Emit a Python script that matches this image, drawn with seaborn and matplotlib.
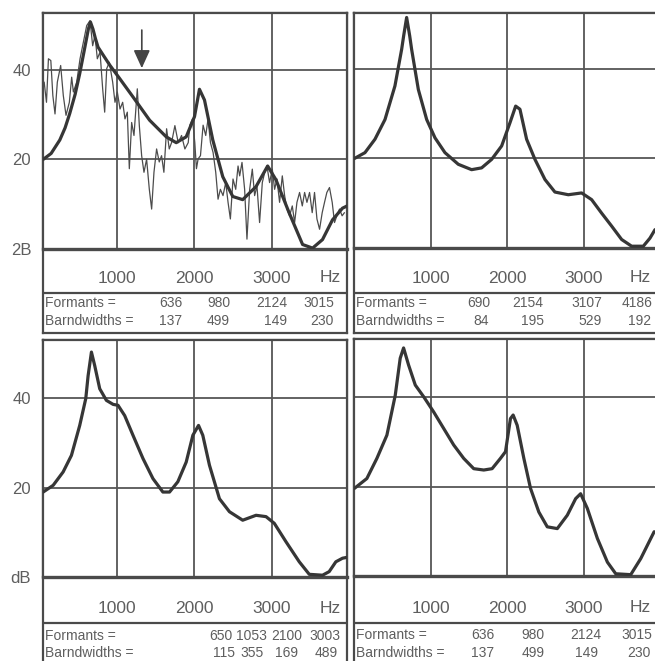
import matplotlib
matplotlib.use("Agg")
import matplotlib.pyplot as plt
import seaborn as sns
import pandas as pd

# ---------------- data ----------------
freq_ticks = [1000, 2000, 3000]
freq_tick_labels = ["1000", "2000", "3000"]
db_ticks = [0, 20, 40]
db_labels_top = ["2B", "20", "40"]
db_labels_bottom = ["dB", "20", "40"]
panel_orders = ["14", "10", "12", "14"]

# top-left: LPC envelope (order 14) + FFT spectrum
tl_freq = [50, 150, 262, 330, 390, 460, 519, 580, 630, 657, 690, 720, 755, 830, 906,
           1034, 1206, 1421, 1635, 1764, 1893, 2000, 2064, 2129, 2236, 2365, 2494,
           2622, 2794, 2944, 3052, 3223, 3395, 3524, 3652, 3781, 3910, 3970]
tl_db = [20.0, 21.3, 24.3, 27.0, 30.2, 34.5, 39.1, 44.5, 49.0, 50.6, 49.0, 47.0, 45.0, 43.0, 41.0,
         38.0, 33.9, 28.7, 25.0, 23.7, 25.0, 29.5, 35.6, 33.2, 24.3, 16.1, 11.7,
         11.0, 13.9, 18.5, 15.4, 8.0, 1.0, 0.2, 2.1, 6.5, 9.1, 9.6]

fft_freq = [30, 60, 90, 115, 146, 172, 200, 230, 273, 307, 342, 385, 415, 437, 480, 523,
            566, 609, 652, 686, 716, 746, 781, 815, 841, 867, 901, 944, 974, 1004, 1039,
            1073, 1103, 1133, 1159, 1189, 1219, 1262, 1288, 1318, 1348, 1382, 1417, 1447,
            1477, 1511, 1545, 1575, 1605, 1640, 1674, 1704, 1747, 1790, 1833, 1876, 1919,
            1940, 1974, 2004, 2025, 2047, 2077, 2111, 2145, 2175, 2206, 2240, 2274, 2304,
            2334, 2368, 2403, 2433, 2463, 2497, 2532, 2562, 2583, 2613, 2647, 2677, 2712,
            2746, 2776, 2806, 2840, 2875, 2905, 2935, 2969, 3004, 3034, 3064, 3098, 3133,
            3163, 3193, 3227, 3262, 3292, 3322, 3356, 3391, 3421, 3451, 3485, 3519, 3549,
            3580, 3614, 3648, 3678, 3708, 3742, 3777, 3807, 3837, 3871, 3905, 3935]
fft_db = [35.0, 37.2, 32.7, 42.4, 42.0, 34.2, 30.1, 37.2, 40.9, 34.2, 29.8, 32.7, 38.3, 35.0, 37.2, 42.4,
          46.1, 49.8, 50.9, 45.3, 47.6, 42.4, 43.9, 35.7, 30.5, 40.2, 41.6, 37.2, 32.7, 35.0, 31.2,
          32.7, 29.0, 30.5, 17.9, 28.2, 25.3, 35.7, 27.5, 20.8, 17.1, 20.0, 13.3, 8.9,
          17.1, 22.3, 19.4, 20.8, 17.1, 26.8, 22.3, 23.7, 27.5, 23.7, 25.3, 22.3, 23.7,
          27.6, 29.0, 23.7, 17.9, 20.1, 20.8, 27.6, 25.3, 29.0, 23.7, 21.5, 17.1, 11.1,
          13.3, 11.9, 14.8, 10.4, 6.7, 15.6, 13.3, 18.5, 16.3, 19.3, 13.3, 2.2, 13.3,
          17.8, 11.9, 14.1, 5.9, 14.8, 17.0, 18.5, 14.8, 17.8, 13.3, 15.6, 10.4, 16.3,
          11.9, 8.9, 7.4, 9.6, 5.9, 10.4, 12.6, 9.6, 12.6, 10.4, 12.6, 8.1, 12.6,
          6.7, 4.4, 8.1, 10.4, 12.6, 13.7, 10.4, 5.9, 7.4, 8.9, 7.4, 8.1]

# top-right: order 10
tr_freq = [0, 137, 268, 399, 529, 617, 643, 682, 722, 747, 835, 944, 1053, 1183, 1357, 1531,
           1662, 1793, 1924, 2033, 2107, 2163, 2250, 2359, 2490, 2620, 2795, 2969, 3100,
           3230, 3361, 3492, 3623, 3775, 3862, 3928]
tr_db = [20.0, 21.3, 24.3, 28.7, 36.2, 44.4, 47.4, 51.5, 47.4, 44.4, 35.4, 28.7, 24.6, 21.3, 18.7, 17.5,
         17.9, 19.8, 22.8, 28.0, 31.7, 31.0, 24.3, 19.8, 15.3, 12.5, 11.9, 12.3, 10.8,
         7.8, 4.9, 1.9, 0.4, 0.4, 2.2, 4.1]

# bottom-left: order 12
bl_freq = [47, 176, 305, 412, 519, 597, 627, 670, 712, 777, 863, 950, 1013, 1099, 1206, 1335,
           1464, 1592, 1678, 1785, 1893, 1979, 2052, 2107, 2193, 2322, 2451, 2622, 2794,
           2923, 3030, 3180, 3352, 3481, 3652, 3738, 3824, 3910, 3970]
bl_db = [19.0, 20.5, 23.5, 27.2, 33.9, 39.9, 45.0, 50.3, 47.3, 42.1, 39.5, 38.6, 38.4, 36.1, 31.7, 26.5,
         22.0, 19.0, 19.0, 21.3, 25.7, 31.7, 33.9, 31.7, 25.0, 17.5, 14.6, 12.7, 13.8,
         13.5, 12.0, 7.9, 3.4, 0.6, 0.4, 1.2, 3.4, 4.2, 4.4]

# bottom-right: order 14
br_freq = [0, 162, 293, 424, 533, 598, 642, 707, 795, 904, 1035, 1166, 1297, 1428, 1559, 1690,
           1799, 1908, 1974, 2039, 2074, 2127, 2214, 2301, 2410, 2520, 2651, 2782, 2891, 2956,
           3044, 3175, 3306, 3415, 3611, 3742, 3873, 3917]
br_db = [19.6, 21.8, 26.3, 31.5, 40.4, 48.7, 51.0, 47.2, 42.7, 40.1, 36.7, 33.0, 29.3, 26.3, 24.0, 23.7,
         24.0, 26.3, 27.8, 35.2, 36.0, 33.7, 26.3, 19.6, 14.3, 11.0, 10.6, 13.6, 17.3, 18.4,
         15.1, 8.4, 3.1, 0.5, 0.3, 3.9, 8.4, 9.9]

tl_formants = [636, 980, 2124, 3015]
tl_bandwidths = [137, 499, 149, 230]
tr_formants = [690, 2154, 3107, 4186]
tr_bandwidths = [84, 195, 529, 192]
bl_formants = [650, 1053, 2100, 3003]
bl_bandwidths = [115, 355, 169, 489]
br_formants = [636, 980, 2124, 3015]
br_bandwidths = [137, 499, 149, 230]

arrow_freq = 1320

# ---------------- style ----------------
sns.set_theme(style="white")
plt.rcParams['font.family'] = ['Liberation Sans', 'DejaVu Sans']

W, H = 655, 661
fig = plt.figure(figsize=(W / 100, H / 100), dpi=100)
fig.patch.set_facecolor("white")

CURVE = "#363636"
GRID = "#565656"
FRAME = "#4a4a4a"
TEXT = "#5e5e5e"
TFS = 10


def rect(x0, y0, x1, y1):
    return [x0 / W, 1 - y1 / H, (x1 - x0) / W, (y1 - y0) / H]


panels = [
    dict(box=(43, 13, 347, 333), pb=249, sep=293, xlim=(45, 3968), ylim=(0, 52.6),
         rows=(303, 321), fcols=[182, 230, 287, 334], bcols=[182, 230, 287, 334],
         hz=320, pad=16.0, num=(337, 35), ylab=db_labels_top,
         freq=tl_freq, db=tl_db, F=tl_formants, B=tl_bandwidths, order=panel_orders[0]),
    dict(box=(354, 13, 668, 333), pb=248, sep=293, xlim=(-6, 4098), ylim=(0, 52.5),
         rows=(303, 321), fcols=[490, 543, 602, 652], bcols=[489, 544, 602, 651],
         hz=630, pad=16.8, num=(647, 33), ylab=None,
         freq=tr_freq, db=tr_db, F=tr_formants, B=tr_bandwidths, order=panel_orders[1]),
    dict(box=(43, 340, 347, 668), pb=577, sep=623, xlim=(45, 3968), ylim=(0, 53.0),
         rows=(636, 653), fcols=[232, 267, 302, 340], bcols=[235, 264, 298, 338],
         hz=320, pad=17.5, num=(337, 361), ylab=db_labels_bottom,
         freq=bl_freq, db=bl_db, F=bl_formants, B=bl_bandwidths, order=panel_orders[2]),
    dict(box=(354, 339, 668, 668), pb=576, sep=623, xlim=(-6, 4098), ylim=(0, 53.0),
         rows=(635, 653), fcols=[495, 545, 601, 652], bcols=[494, 545, 598, 651],
         hz=630, pad=18.2, num=(647, 360), ylab=None,
         freq=br_freq, db=br_db, F=br_formants, B=br_bandwidths, order=panel_orders[3]),
]

for i, p in enumerate(panels):
    x0, y0, x1, y1 = p["box"]
    # frame box (pixel coordinates for layout text)
    axb = fig.add_axes(rect(x0, y0, x1, y1))
    axb.set_xlim(x0, x1)
    axb.set_ylim(y1, y0)
    axb.set_xticks([])
    axb.set_yticks([])
    axb.set_facecolor("white")
    for s in axb.spines.values():
        s.set_color(FRAME)
        s.set_linewidth(1.6)
    axb.axhline(p["sep"], color=FRAME, lw=1.6)

    # table
    ry1, ry2 = p["rows"]
    axb.text(x0 + 2, ry1, "Formants =", ha="left", va="center", fontsize=TFS, color=TEXT)
    axb.text(x0 + 2, ry2, "Barndwidths =", ha="left", va="center", fontsize=TFS, color=TEXT)
    for xr, v in zip(p["fcols"], p["F"]):
        axb.text(xr, ry1, str(v), ha="right", va="center", fontsize=TFS, color=TEXT)
    for xr, v in zip(p["bcols"], p["B"]):
        axb.text(xr, ry2, str(v), ha="right", va="center", fontsize=TFS, color=TEXT)

    # spectrum axes
    axp = fig.add_axes(rect(x0, y0, x1, p["pb"]))
    axp.set_facecolor("white")
    if i == 0:
        sns.lineplot(x=fft_freq, y=fft_db, ax=axp, color="#4c4c4c", lw=0.9,
                     estimator=None, sort=False, zorder=3)
    sns.lineplot(x=p["freq"], y=p["db"], ax=axp, color=CURVE, lw=2.3,
                 estimator=None, sort=False, zorder=4)
    axp.set_xlim(*p["xlim"])
    axp.set_ylim(*p["ylim"])
    axp.set_xlabel("")
    axp.set_ylabel("")
    axp.set_xticks(freq_ticks)
    axp.set_xticklabels(freq_tick_labels)
    axp.set_yticks(db_ticks)
    if p["ylab"] is not None:
        axp.set_yticklabels(p["ylab"])
    else:
        axp.set_yticklabels([])
    axp.tick_params(axis="x", length=0, pad=p["pad"], labelsize=12.5, labelcolor=TEXT)
    axp.tick_params(axis="y", length=0, pad=8.5, labelsize=12, labelcolor=TEXT)
    axp.grid(True, color=GRID, lw=1.3, zorder=1)
    axp.set_axisbelow(True)
    for name, s in axp.spines.items():
        s.set_color(FRAME)
        s.set_linewidth(1.6)
    axp.spines["bottom"].set_linewidth(2.4)

    # "Hz" unit label on the same row as the frequency tick labels
    lab_y = p["pb"] + 29 if i < 2 else p["pb"] + 31
    axb.text(p["hz"], lab_y, "Hz", ha="left", va="center", fontsize=12.5, color=TEXT)

    axb.text(p["num"][0], p["num"][1], p["order"], ha="right", va="center",
             fontsize=14.5, color=TEXT)

    if i == 0:
        axp.annotate("", xy=(arrow_freq, 40.3), xytext=(arrow_freq, 48.8),
                     arrowprops=dict(arrowstyle="-|>,head_length=0.55,head_width=0.25",
                                     mutation_scale=20, lw=1.2, color="#444444",
                                     shrinkA=0, shrinkB=0), zorder=5)

fig.savefig("out.png", dpi=100, facecolor="white")
